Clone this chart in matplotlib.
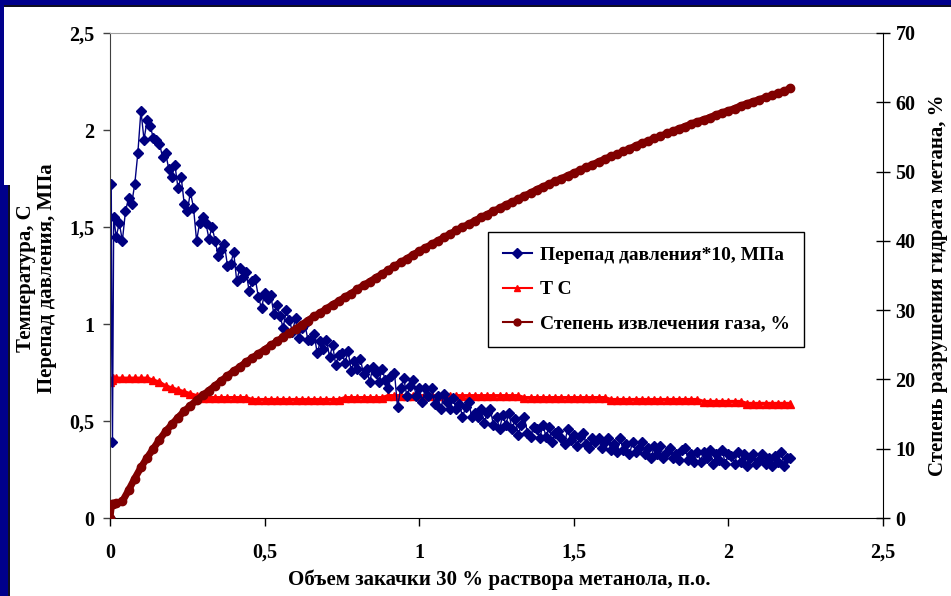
import matplotlib
matplotlib.use("Agg")
import matplotlib.pyplot as plt
from matplotlib.patches import Rectangle
from matplotlib.ticker import FuncFormatter, MultipleLocator

plt.rcParams['font.family'] = ['Liberation Serif', 'DejaVu Serif']
plt.rcParams['font.weight'] = 'bold'

# pressure drop readings: injection volume (p.v.) and drop * 10 (MPa)
x_dp = [0.0, 0.004, 0.008, 0.012,
        0.02, 0.03, 0.04, 0.05, 0.06, 0.07, 0.08, 0.09, 0.10,
        0.11, 0.12, 0.13, 0.14, 0.15, 0.16, 0.17, 0.18, 0.19, 0.20,
        0.21, 0.22, 0.23, 0.24, 0.25, 0.26, 0.27, 0.28, 0.29, 0.30,
        0.31, 0.32, 0.33, 0.34, 0.35, 0.36, 0.37, 0.38, 0.39, 0.40,
        0.41, 0.42, 0.43, 0.44, 0.45, 0.46, 0.47, 0.48, 0.49, 0.50,
        0.51, 0.52, 0.53, 0.54, 0.55, 0.56, 0.57, 0.58, 0.59, 0.60,
        0.61, 0.62, 0.63, 0.64, 0.65, 0.66, 0.67, 0.68, 0.69, 0.70,
        0.71, 0.72, 0.73, 0.74, 0.75, 0.76, 0.77, 0.78, 0.79, 0.80,
        0.81, 0.82, 0.83, 0.84, 0.85, 0.86, 0.87, 0.88, 0.89, 0.90,
        0.91, 0.92, 0.93, 0.94, 0.95, 0.96, 0.97, 0.98, 0.99, 1.00,
        1.01, 1.02, 1.03, 1.04, 1.05, 1.06, 1.07, 1.08, 1.09, 1.10,
        1.11, 1.12, 1.13, 1.14, 1.15, 1.16, 1.17, 1.18, 1.19, 1.20,
        1.21, 1.22, 1.23, 1.24, 1.25, 1.26, 1.27, 1.28, 1.29, 1.30,
        1.31, 1.32, 1.33, 1.34, 1.35, 1.36, 1.37, 1.38, 1.39, 1.40,
        1.41, 1.42, 1.43, 1.44, 1.45, 1.46, 1.47, 1.48, 1.49, 1.50,
        1.51, 1.52, 1.53, 1.54, 1.55, 1.56, 1.57, 1.58, 1.59, 1.60,
        1.61, 1.62, 1.63, 1.64, 1.65, 1.66, 1.67, 1.68, 1.69, 1.70,
        1.71, 1.72, 1.73, 1.74, 1.75, 1.76, 1.77, 1.78, 1.79, 1.80,
        1.81, 1.82, 1.83, 1.84, 1.85, 1.86, 1.87, 1.88, 1.89, 1.90,
        1.91, 1.92, 1.93, 1.94, 1.95, 1.96, 1.97, 1.98, 1.99, 2.00,
        2.01, 2.02, 2.03, 2.04, 2.05, 2.06, 2.07, 2.08, 2.09, 2.10,
        2.11, 2.12, 2.13, 2.14, 2.15, 2.16, 2.17, 2.18, 2.19, 2.20]

dp = [0.0, 1.72, 0.39, 1.55,
      1.45, 1.52, 1.43, 1.58, 1.65, 1.62, 1.72, 1.88, 2.10,
      1.95, 2.05, 2.02, 1.96, 1.95, 1.93, 1.86, 1.88, 1.80, 1.76,
      1.82, 1.70, 1.76, 1.62, 1.58, 1.68, 1.60, 1.43, 1.52, 1.55,
      1.52, 1.44, 1.50, 1.43, 1.35, 1.38, 1.41, 1.30, 1.31, 1.37,
      1.22, 1.29, 1.24, 1.27, 1.17, 1.22, 1.23, 1.14, 1.08, 1.16,
      1.13, 1.15, 1.05, 1.10, 1.04, 0.98, 1.07, 1.02, 0.96, 1.03,
      0.93, 0.98, 1.00, 0.92, 0.92, 0.95, 0.85, 0.91, 0.87, 0.92,
      0.83, 0.89, 0.79, 0.84, 0.85, 0.80, 0.86, 0.76, 0.81, 0.77,
      0.82, 0.74, 0.77, 0.70, 0.78, 0.75, 0.70, 0.77, 0.71, 0.67,
      0.73, 0.75, 0.57, 0.67, 0.72, 0.63, 0.68, 0.71, 0.63, 0.67,
      0.60, 0.67, 0.63, 0.67, 0.59, 0.63, 0.56, 0.64, 0.60, 0.56,
      0.62, 0.56, 0.59, 0.52, 0.57, 0.60, 0.52, 0.54, 0.52, 0.56,
      0.49, 0.54, 0.56, 0.48, 0.52, 0.46, 0.53, 0.48, 0.54, 0.46,
      0.51, 0.43, 0.48, 0.52, 0.44, 0.42, 0.47, 0.46, 0.41, 0.48,
      0.42, 0.47, 0.39, 0.44, 0.45, 0.41, 0.38, 0.46, 0.40, 0.43,
      0.37, 0.42, 0.44, 0.38, 0.36, 0.41, 0.39, 0.41, 0.36, 0.39,
      0.41, 0.35, 0.38, 0.34, 0.41, 0.35, 0.38, 0.33, 0.39, 0.34,
      0.36, 0.39, 0.33, 0.36, 0.31, 0.37, 0.33, 0.37, 0.31, 0.34,
      0.36, 0.31, 0.33, 0.30, 0.35, 0.36, 0.30, 0.33, 0.29, 0.34,
      0.29, 0.34, 0.31, 0.35, 0.28, 0.33, 0.30, 0.35, 0.28, 0.33,
      0.32, 0.28, 0.34, 0.29, 0.33, 0.27, 0.31, 0.33, 0.28, 0.30,
      0.33, 0.28, 0.31, 0.27, 0.32, 0.29, 0.34, 0.27, 0.31, 0.31]

# temperature and gas recovery: injection volume (p.v.)
x_vol = [0.0, 0.005, 0.01,
         0.02, 0.04, 0.06, 0.08, 0.10, 0.12, 0.14, 0.16, 0.18, 0.20,
         0.22, 0.24, 0.26, 0.28, 0.30, 0.32, 0.34, 0.36, 0.38, 0.40,
         0.42, 0.44, 0.46, 0.48, 0.50, 0.52, 0.54, 0.56, 0.58, 0.60,
         0.62, 0.64, 0.66, 0.68, 0.70, 0.72, 0.74, 0.76, 0.78, 0.80,
         0.82, 0.84, 0.86, 0.88, 0.90, 0.92, 0.94, 0.96, 0.98, 1.00,
         1.02, 1.04, 1.06, 1.08, 1.10, 1.12, 1.14, 1.16, 1.18, 1.20,
         1.22, 1.24, 1.26, 1.28, 1.30, 1.32, 1.34, 1.36, 1.38, 1.40,
         1.42, 1.44, 1.46, 1.48, 1.50, 1.52, 1.54, 1.56, 1.58, 1.60,
         1.62, 1.64, 1.66, 1.68, 1.70, 1.72, 1.74, 1.76, 1.78, 1.80,
         1.82, 1.84, 1.86, 1.88, 1.90, 1.92, 1.94, 1.96, 1.98, 2.00,
         2.02, 2.04, 2.06, 2.08, 2.10, 2.12, 2.14, 2.16, 2.18, 2.20]

# temperature, C
temp = [0.70, 0.71, 0.72,
        0.72, 0.72, 0.72, 0.72, 0.72, 0.72, 0.71, 0.70, 0.68, 0.67,
        0.66, 0.65, 0.64, 0.63, 0.62, 0.62, 0.62, 0.62, 0.62, 0.62,
        0.62, 0.62, 0.61, 0.61, 0.61, 0.61, 0.61, 0.61, 0.61, 0.61,
        0.61, 0.61, 0.61, 0.61, 0.61, 0.61, 0.61, 0.62, 0.62, 0.62,
        0.62, 0.62, 0.62, 0.62, 0.63, 0.63, 0.63, 0.63, 0.63, 0.63,
        0.63, 0.63, 0.63, 0.63, 0.63, 0.63, 0.63, 0.63, 0.63, 0.63,
        0.63, 0.63, 0.63, 0.63, 0.63, 0.63, 0.62, 0.62, 0.62, 0.62,
        0.62, 0.62, 0.62, 0.62, 0.62, 0.62, 0.62, 0.62, 0.62, 0.62,
        0.61, 0.61, 0.61, 0.61, 0.61, 0.61, 0.61, 0.61, 0.61, 0.61,
        0.61, 0.61, 0.61, 0.61, 0.61, 0.60, 0.60, 0.60, 0.60, 0.60,
        0.60, 0.60, 0.59, 0.59, 0.59, 0.59, 0.59, 0.59, 0.59, 0.59]

# gas recovery, %
gas = [0.0, 2.0, 2.0,
       2.1, 2.4, 4.0, 5.7, 7.3, 8.7, 10.0, 11.3, 12.5, 13.5,
       14.5, 15.4, 16.2, 17.0, 17.7, 18.4, 19.1, 19.8, 20.5, 21.2,
       21.8, 22.5, 23.1, 23.7, 24.3, 24.9, 25.5, 26.1, 26.7, 27.3,
       27.9, 28.5, 29.1, 29.6, 30.2, 30.8, 31.3, 31.9, 32.4, 33.0,
       33.6, 34.1, 34.7, 35.2, 35.8, 36.3, 36.9, 37.4, 38.0, 38.5,
       39.0, 39.5, 40.0, 40.5, 41.0, 41.5, 42.0, 42.4, 42.9, 43.4,
       43.8, 44.3, 44.7, 45.2, 45.6, 46.0, 46.5, 46.9, 47.4, 47.8,
       48.2, 48.6, 49.0, 49.4, 49.8, 50.2, 50.6, 51.0, 51.4, 51.8,
       52.2, 52.5, 52.9, 53.3, 53.7, 54.1, 54.4, 54.8, 55.1, 55.5,
       55.8, 56.2, 56.5, 56.9, 57.2, 57.5, 57.8, 58.2, 58.5, 58.8,
       59.1, 59.5, 59.8, 60.1, 60.4, 60.7, 61.0, 61.3, 61.6, 62.0]


def comma(v, pos):
    return ('%g' % v).replace('.', ',')


fig = plt.figure(figsize=(9.51, 5.96), dpi=100)

# slide frame
navy = '#00008C'
fig.add_artist(Rectangle((0, 590 / 596.), 1, 6 / 596., transform=fig.transFigure,
                         facecolor=navy, edgecolor='none', zorder=0))
fig.add_artist(Rectangle((0, 589 / 596.), 1, 1.5 / 596., transform=fig.transFigure,
                         facecolor='#101020', edgecolor='none', zorder=0))
fig.add_artist(Rectangle((0, 0), 3.5 / 951., 1, transform=fig.transFigure,
                         facecolor=navy, edgecolor='none', zorder=0))
fig.add_artist(Rectangle((0, 0), 8 / 951., 411 / 596., transform=fig.transFigure,
                         facecolor=navy, edgecolor='none', zorder=0))
fig.add_artist(Rectangle((8 / 951., 0), 1.5 / 951., 411 / 596., transform=fig.transFigure,
                         facecolor='#101020', edgecolor='none', zorder=0))

ax = fig.add_axes([110 / 951., 78 / 596., 773 / 951., 485 / 596.])
ax2 = ax.twinx()

l2, = ax.plot(x_vol, temp, color='#FF0000', lw=2.5, marker='^', ms=6,
              label='T C')
l1, = ax.plot(x_dp, dp, color='#000080', lw=1, marker='D', ms=5,
              label='Перепад давления*10, МПа')
l3, = ax2.plot(x_vol, gas, color='#800000', lw=5, marker='o', ms=6,
               label='Степень извлечения газа, %')

ax.set_xlim(0, 2.5)
ax.set_ylim(0, 2.5)
ax2.set_ylim(0, 70)
ax.xaxis.set_major_locator(MultipleLocator(0.5))
ax.yaxis.set_major_locator(MultipleLocator(0.5))
ax2.yaxis.set_major_locator(MultipleLocator(10))
ax.xaxis.set_major_formatter(FuncFormatter(comma))
ax.yaxis.set_major_formatter(FuncFormatter(comma))

ax.tick_params(axis='y', direction='out', length=5, width=1, labelsize=14.5, pad=6,
               color='#404040')
ax.tick_params(axis='x', direction='out', length=6, width=1, labelsize=14.5, pad=12)
ax2.tick_params(axis='y', direction='inout', length=10, width=1, labelsize=14.5, pad=4)

ax.spines['top'].set_color('#A0A0A0')
ax.spines['right'].set_visible(False)
ax.spines['left'].set_color('#404040')
for s in ['top', 'left', 'bottom']:
    ax2.spines[s].set_visible(False)
ax2.spines['right'].set_color('black')

fig.text(36.5 / 951., 1 - 278 / 596., 'Температура, С\nПерепад давления, МПа',
         rotation=90, ha='center', va='center', multialignment='center',
         fontsize=15, linespacing=1.1)
fig.text(499 / 951., 1 - 580 / 596., 'Объем закачки 30 % раствора метанола, п.о.',
         ha='center', va='center', fontsize=15)
fig.text(938 / 951., 1 - 285 / 596., 'Степень разрушения гидрата метана, %',
         rotation=90, ha='center', va='center', fontsize=15)

leg = ax2.legend(handles=[l1, l2, l3], loc='upper left',
                 bbox_to_anchor=(488 / 951., 1 - 232 / 596.),
                 bbox_transform=fig.transFigure, fontsize=14,
                 frameon=True, fancybox=False, framealpha=1,
                 borderpad=0.75, labelspacing=0.85, handlelength=1.5,
                 handletextpad=0.4, borderaxespad=0)
leg.get_frame().set_edgecolor('black')
leg.get_frame().set_linewidth(1)
for h in leg.get_lines():
    h.set_linewidth(1.5)
    h.set_markersize(5)

fig.savefig('out.png', dpi=100)
